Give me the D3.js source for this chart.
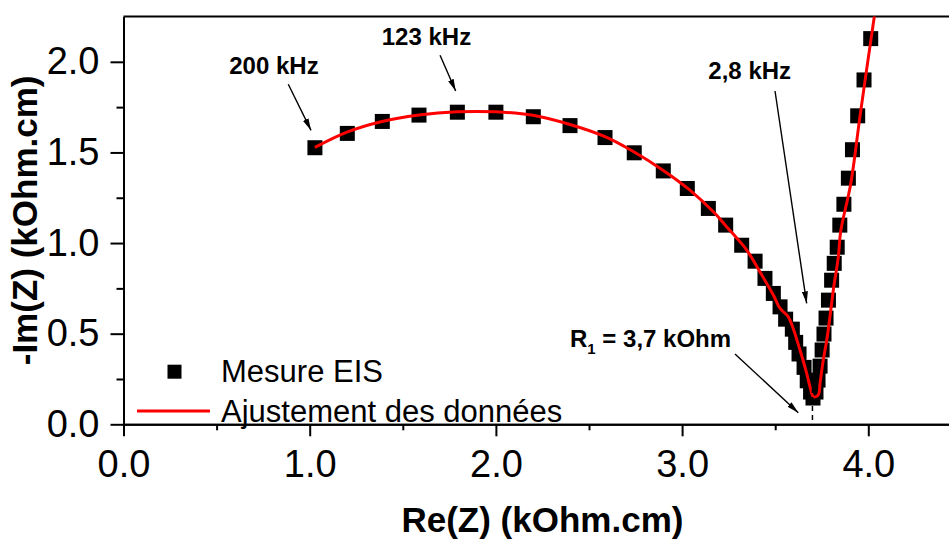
<!DOCTYPE html>
<html>
<head>
<meta charset="utf-8">
<script src="https://cdn.jsdelivr.net/npm/d3@7"></script>
<style>
  body { margin: 0; background: #fff; }
  text { font-family: "Liberation Sans", Arial, sans-serif; }
</style>
</head>
<body>
<script>
// EIS measurement (Nyquist), kOhm.cm
const mesureRe = [1.028, 1.202, 1.390, 1.587, 1.793, 2.000, 2.201, 2.398, 2.586, 2.743,
  2.899, 3.028, 3.141, 3.234, 3.320, 3.392, 3.445, 3.490, 3.526, 3.556,
  3.592, 3.610, 3.628, 3.655, 3.672, 3.690, 3.703, 3.719, 3.730, 3.741,
  3.752, 3.762, 3.773, 3.786, 3.803, 3.817, 3.833, 3.847, 3.869, 3.893,
  3.915, 3.943, 3.977, 4.013];
const mesureIm = [1.526, 1.605, 1.671, 1.706, 1.722, 1.722, 1.697, 1.648, 1.582, 1.498,
  1.398, 1.301, 1.191, 1.099, 0.988, 0.900, 0.805, 0.722, 0.648, 0.580,
  0.525, 0.452, 0.388, 0.314, 0.240, 0.178, 0.145, 0.178, 0.244, 0.321,
  0.410, 0.498, 0.586, 0.685, 0.795, 0.888, 0.977, 1.099, 1.214, 1.358,
  1.515, 1.702, 1.900, 2.128];

// fitted model
const fitRe = [1.028, 1.200, 1.378, 1.587, 1.791, 2.000, 2.199, 2.398, 2.586, 2.738,
  2.897, 3.042, 3.177, 3.240, 3.347, 3.418, 3.490, 3.526, 3.570, 3.633,
  3.669, 3.687, 3.705, 3.731, 3.741, 3.758, 3.777, 3.794, 3.812, 3.839,
  3.852, 3.906, 3.955, 4.032, 4.045];
const fitIm = [1.528, 1.612, 1.668, 1.706, 1.724, 1.724, 1.705, 1.654, 1.587, 1.505,
  1.402, 1.292, 1.163, 1.089, 0.961, 0.841, 0.713, 0.639, 0.593, 0.410,
  0.281, 0.207, 0.152, 0.162, 0.228, 0.354, 0.465, 0.593, 0.740, 0.924,
  1.066, 1.329, 1.696, 2.248, 2.33];

const xMajorTicks = [0, 1, 2, 3, 4];
const xMinorTicks = [0.5, 1.5, 2.5, 3.5, 4.5];
const yMajorTicks = [0, 0.5, 1, 1.5, 2];
const yMinorTicks = [0.25, 0.75, 1.25, 1.75];
const legendLabels = ["Mesure EIS", "Ajustement des données"];

// annotation labels: text position and arrow (from -> to), in data units
const annoText = ["200 kHz", "123 kHz", "2,8 kHz"];
const annoTextXY = [[0.568, 1.931], [1.387, 2.091], [3.141, 1.904]];
const annoArrows = [
  [[0.885, 1.876], [1.007, 1.622]],
  [[1.700, 2.036], [1.784, 1.839]],
  [[3.499, 1.839], [3.669, 0.667]],
  [[3.284, 0.388], [3.624, 0.064]]
];
const r1Value = 3.7;
const r1TextXY = [2.398, 0.424];

const w = 949, h = 541;
const x = d3.scaleLinear().domain([0, 4.5]).range([123.5, 961.4]);
const y = d3.scaleLinear().domain([0, 2.25]).range([424.3, 16.5]);

const svg = d3.select("body").append("svg")
  .attr("width", w).attr("height", h);

svg.append("defs").append("clipPath").attr("id", "plot")
  .append("rect")
  .attr("x", x(0)).attr("y", y(2.25))
  .attr("width", x(4.5) - x(0)).attr("height", y(0) - y(2.25));

svg.select("defs").append("marker")
  .attr("id", "arrow")
  .attr("markerUnits", "userSpaceOnUse")
  .attr("viewBox", "0 0 12 6")
  .attr("markerWidth", 12).attr("markerHeight", 6)
  .attr("refX", 12).attr("refY", 3)
  .attr("orient", "auto")
  .append("path").attr("d", "M0,0L12,3L0,6Z").attr("fill", "#000");

// axes
function styleAxis(g) {
  g.selectAll(".domain").attr("stroke", "#000").attr("stroke-width", 2);
  g.selectAll(".tick line").attr("stroke", "#000").attr("stroke-width", 2);
  g.selectAll(".tick text").attr("fill", "#000")
    .style("font-family", "'Liberation Sans', Arial, sans-serif")
    .style("font-size", "38px");
}

svg.append("g").attr("transform", `translate(0,${y(0)})`)
  .call(d3.axisBottom(x).tickValues(xMinorTicks).tickSize(6).tickSizeOuter(0).tickFormat(""))
  .call(styleAxis);
svg.append("g").attr("transform", `translate(0,${y(0)})`)
  .call(d3.axisBottom(x).tickValues(xMajorTicks).tickSize(12).tickSizeOuter(0)
    .tickPadding(14).tickFormat(d3.format(".1f")))
  .call(styleAxis);

svg.append("g").attr("transform", `translate(${x(0)},0)`)
  .call(d3.axisLeft(y).tickValues(yMinorTicks).tickSize(7).tickSizeOuter(0).tickFormat(""))
  .call(styleAxis);
svg.append("g").attr("transform", `translate(${x(0)},0)`)
  .call(d3.axisLeft(y).tickValues(yMajorTicks).tickSize(13).tickSizeOuter(0)
    .tickPadding(11).tickFormat(d3.format(".1f")))
  .call(styleAxis);

// top frame line
svg.append("line")
  .attr("x1", x(0)).attr("x2", x(4.5))
  .attr("y1", y(2.25)).attr("y2", y(2.25))
  .attr("stroke", "#000").attr("stroke-width", 2);

// axis titles
svg.append("text")
  .attr("x", (x(0) + x(4.5)) / 2).attr("y", 531.5)
  .attr("text-anchor", "middle")
  .attr("font-size", 35).attr("font-weight", "bold")
  .text("Re(Z) (kOhm.cm)");

svg.append("text")
  .attr("transform", `translate(37,${(y(0) + y(2.25)) / 2}) rotate(-90)`)
  .attr("text-anchor", "middle")
  .attr("font-size", 35).attr("font-weight", "bold")
  .text("-Im(Z) (kOhm.cm)");

const plot = svg.append("g").attr("clip-path", "url(#plot)");

// measured squares
const sq = 15;
plot.selectAll("rect.pt")
  .data(d3.range(mesureRe.length))
  .join("rect")
  .attr("class", "pt")
  .attr("x", i => x(mesureRe[i]) - sq / 2)
  .attr("y", i => y(mesureIm[i]) - sq / 2)
  .attr("width", sq).attr("height", sq)
  .attr("fill", "#000");

// fit line
const fitLine = d3.line()
  .x(i => x(fitRe[i]))
  .y(i => y(fitIm[i]))
  .curve(d3.curveCatmullRom.alpha(0.5));

plot.append("path")
  .attr("d", fitLine(d3.range(fitRe.length)))
  .attr("fill", "none")
  .attr("stroke", "#ff0000")
  .attr("stroke-width", 3);

// R1 dashed marker
svg.append("line")
  .attr("x1", x(r1Value)).attr("x2", x(r1Value))
  .attr("y1", y(0.2)).attr("y2", y(0))
  .attr("stroke", "#000").attr("stroke-width", 1.5)
  .attr("stroke-dasharray", "5,4");

// annotations
annoArrows.forEach(a => {
  svg.append("line")
    .attr("x1", x(a[0][0])).attr("y1", y(a[0][1]))
    .attr("x2", x(a[1][0])).attr("y2", y(a[1][1]))
    .attr("stroke", "#000").attr("stroke-width", 1.4)
    .attr("marker-end", "url(#arrow)");
});

annoText.forEach((t, i) => {
  svg.append("text")
    .attr("x", x(annoTextXY[i][0])).attr("y", y(annoTextXY[i][1]))
    .attr("font-size", 24).attr("font-weight", "bold")
    .text(t);
});

const r1 = svg.append("text")
  .attr("x", x(r1TextXY[0])).attr("y", y(r1TextXY[1]))
  .attr("font-size", 24).attr("font-weight", "bold");
r1.append("tspan").text("R");
r1.append("tspan").attr("dy", 7).attr("font-size", 15).text("1");
r1.append("tspan").attr("dy", -7).text(" = 3,7 kOhm");

// legend
const lg = svg.append("g");
lg.append("rect")
  .attr("x", 174.5 - 7).attr("y", 371.7 - 7)
  .attr("width", 14).attr("height", 14).attr("fill", "#000");
lg.append("line")
  .attr("x1", 137).attr("x2", 210).attr("y1", 411).attr("y2", 411)
  .attr("stroke", "#ff0000").attr("stroke-width", 3);
lg.selectAll("text.lbl")
  .data(legendLabels)
  .join("text")
  .attr("class", "lbl")
  .attr("x", 221)
  .attr("y", (d, i) => [382, 421.5][i])
  .attr("font-size", 31)
  .text(d => d);
</script>
</body>
</html>
